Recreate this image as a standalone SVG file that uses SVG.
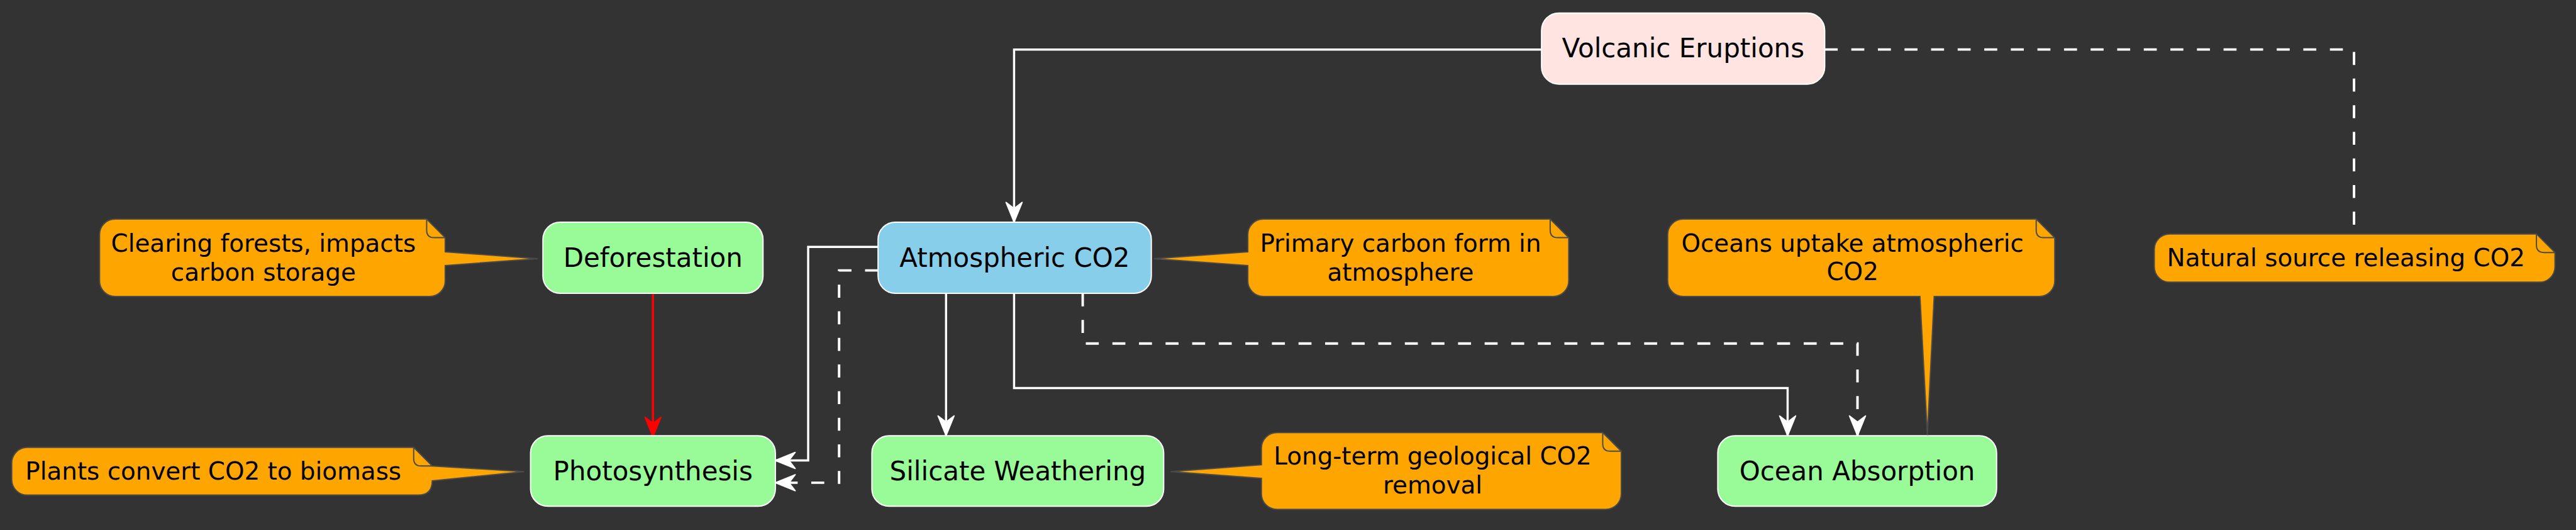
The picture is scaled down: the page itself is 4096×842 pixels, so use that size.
<svg xmlns="http://www.w3.org/2000/svg" width="4096" height="842" viewBox="0 0 4096 842">
<defs>
<style>
.node{stroke:#FFFFFF;stroke-width:2}
.nt{font-family:"DejaVu Sans",sans-serif;font-size:42.7px;fill:#000;text-anchor:middle}
.note{fill:#FFA500;stroke:#4a4a4a;stroke-width:2}
.fold{fill:none;stroke:#4a4a4a;stroke-width:2}
.ntx{font-family:"DejaVu Sans",sans-serif;font-size:39.5px;fill:#000;text-anchor:middle}
.e{fill:none;stroke:#FFFFFF;stroke-width:3.5}
.d{fill:none;stroke:#FFFFFF;stroke-width:4;stroke-dasharray:21 22}
.r{fill:none;stroke:#FF0000;stroke-width:3.5}
</style>
<marker id="aw" viewBox="-40 -20 44 40" markerWidth="44" markerHeight="40" refX="0" refY="0" orient="auto" markerUnits="userSpaceOnUse">
<path d="M0,0 L-32,-13 L-22,0 L-32,13 Z" fill="#FFFFFF" stroke="#FFFFFF" stroke-width="2" stroke-linejoin="round"/>
</marker>
<marker id="ar" viewBox="-40 -20 44 40" markerWidth="44" markerHeight="40" refX="0" refY="0" orient="auto" markerUnits="userSpaceOnUse">
<path d="M0,0 L-32,-13 L-22,0 L-32,13 Z" fill="#FF0000" stroke="#FF0000" stroke-width="2" stroke-linejoin="round"/>
</marker>
</defs>
<rect x="0" y="0" width="4096" height="842" fill="#333333"/>
<g transform="scale(0.98320)">
<g id="connectors">
<path class="e" d="M2493,80 H1640 V359" marker-end="url(#aw)"/>
<path class="d" d="M2951,80 H3807 V378"/>
<path class="e" d="M1420,399 H1307 V744 H1254" marker-end="url(#aw)"/>
<path class="d" d="M1420,437 H1357 V780 H1254" marker-end="url(#aw)"/>
<path class="e" d="M1530,474 V704" marker-end="url(#aw)"/>
<path class="e" d="M1640,474 V627 H2891 V704" marker-end="url(#aw)"/>
<path class="d" d="M1751,474 V555 H3004 V704" marker-end="url(#aw)"/>
<path class="r" d="M1056,474 V706" marker-end="url(#ar)"/>
</g>
<g id="volcanic">
<rect class="node" x="2493" y="21" width="458" height="115" rx="28" fill="#FFE4E1"/>
<text class="nt" x="2722" y="93">Volcanic Eruptions</text>
</g>
<g id="atmospheric">
<rect class="node" x="1420" y="359" width="442" height="115" rx="28" fill="#87CEEB"/>
<text class="nt" x="1641" y="431">Atmospheric CO2</text>
</g>
<g id="deforestation">
<rect class="node" x="878" y="359" width="356" height="115" rx="28" fill="#98FB98"/>
<text class="nt" x="1056" y="431">Deforestation</text>
</g>
<g id="photosynthesis">
<rect class="node" x="858" y="704" width="396" height="114" rx="28" fill="#98FB98"/>
<text class="nt" x="1056" y="776">Photosynthesis</text>
</g>
<g id="silicate">
<rect class="node" x="1410" y="704" width="472" height="114" rx="28" fill="#98FB98"/>
<text class="nt" x="1646" y="776">Silicate Weathering</text>
</g>
<g id="ocean">
<rect class="node" x="2778" y="704" width="451" height="114" rx="28" fill="#98FB98"/>
<text class="nt" x="3003.5" y="776">Ocean Absorption</text>
</g>
<g id="note-deforestation">
<path class="note" d="M186,354 H690 L720,384 V407 L870,418 L720,429 V454 A25,25 0 0 1 695,479 H186 A25,25 0 0 1 161,454 V379 A25,25 0 0 1 186,354 Z"/>
<path class="fold" d="M690,354 V372 Q690,384 702,384 H720"/>
<text class="ntx" x="426" y="407">Clearing forests, impacts</text>
<text class="ntx" x="426" y="454">carbon storage</text>
</g>
<g id="note-photosynthesis">
<path class="note" d="M44,723 H669 L699,753 L848,762 L699,777 Q699,800 676,800 H44 A25,25 0 0 1 19,775 V748 A25,25 0 0 1 44,723 Z"/>
<path class="fold" d="M669,723 V741 Q669,753 681,753 H699"/>
<text class="ntx" x="345" y="775">Plants convert CO2 to biomass</text>
</g>
<g id="note-atmospheric">
<path class="note" d="M2043,354 H2507 L2537,384 V454 A25,25 0 0 1 2512,479 H2043 A25,25 0 0 1 2018,454 V429 L1866,418 L2018,407 V379 A25,25 0 0 1 2043,354 Z"/>
<path class="fold" d="M2507,354 V372 Q2507,384 2519,384 H2537"/>
<text class="ntx" x="2265" y="407">Primary carbon form in</text>
<text class="ntx" x="2265" y="454">atmosphere</text>
</g>
<g id="note-silicate">
<path class="note" d="M2065,699 H2592 L2622,729 V798 A25,25 0 0 1 2597,823 H2065 A25,25 0 0 1 2040,798 V773 L1893,762 L2040,751 V724 A25,25 0 0 1 2065,699 Z"/>
<path class="fold" d="M2592,699 V717 Q2592,729 2604,729 H2622"/>
<text class="ntx" x="2317" y="751">Long-term geological CO2</text>
<text class="ntx" x="2317" y="797">removal</text>
</g>
<g id="note-ocean">
<path class="note" d="M2722,354 H3293 L3323,384 V454 A25,25 0 0 1 3298,479 H3128 L3117,703 L3105,479 H2722 A25,25 0 0 1 2697,454 V379 A25,25 0 0 1 2722,354 Z"/>
<path class="fold" d="M3293,354 V372 Q3293,384 3305,384 H3323"/>
<text class="ntx" x="2996" y="407">Oceans uptake atmospheric</text>
<text class="ntx" x="2996" y="453">CO2</text>
</g>
<g id="note-volcanic">
<path class="note" d="M3509,378 H4102 L4132,408 V431 A25,25 0 0 1 4107,456 H3509 A25,25 0 0 1 3484,431 V403 A25,25 0 0 1 3509,378 Z"/>
<path class="fold" d="M4102,378 V396 Q4102,408 4114,408 H4132"/>
<text class="ntx" x="3794" y="430">Natural source releasing CO2</text>
</g>
</g>
</svg>
